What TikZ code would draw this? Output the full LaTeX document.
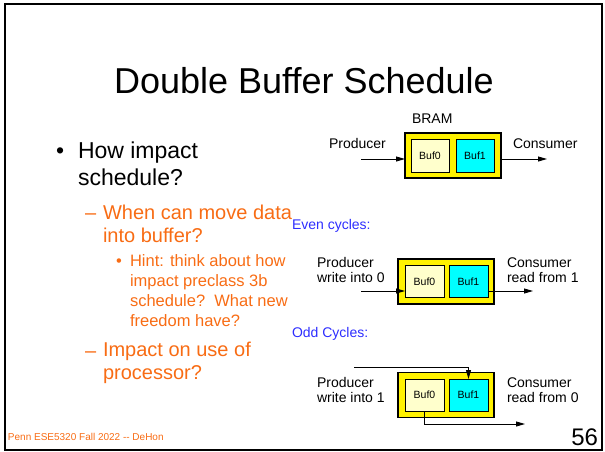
\documentclass[tikz,border=0pt]{standalone}
\usepackage{fontspec}
\setmainfont{Liberation Sans}
\usetikzlibrary{arrows.meta,positioning}
\definecolor{slideorange}{RGB}{248,108,20}
\definecolor{cycleblue}{RGB}{45,45,255}
\definecolor{palebuf}{RGB}{255,255,204}
\definecolor{bufcyan}{RGB}{0,255,255}
\newcommand{\titlesz}{\fontsize{36}{40}\selectfont}
\newcommand{\itemsz}{\fontsize{23}{27}\selectfont}
\newcommand{\subsz}{\fontsize{20}{23}\selectfont}
\newcommand{\hintsz}{\fontsize{16.5}{20}\selectfont}
\newcommand{\lblsz}{\fontsize{14}{15}\selectfont}
\tikzstyle{every picture}+=[x=1pt,y=-1pt]
\tikzstyle{every picture}+=[>={Triangle[length=9pt,width=5pt]}]
\tikzstyle{every picture}+=[line width=0.8pt]
\tikzstyle{every node}+=[inner sep=0pt,outer sep=0pt]
\tikzstyle{txt}+=[anchor=base west,align=left]
\tikzstyle{bram}+=[draw, fill=yellow, line width=1.3pt]
\tikzstyle{bram}+=[minimum width=96pt, minimum height=45pt]
\tikzstyle{buf}+=[draw, line width=0.8pt, minimum width=39pt, minimum height=32pt]
\tikzstyle{buf}+=[font=\fontsize{10.5}{12}\selectfont]
\tikzstyle{lbl}+=[txt, font=\lblsz]

\begin{document}
\begin{tikzpicture}
\useasboundingbox (0,0) rectangle (605,452);
\draw[line width=1.8pt] (5,4) rectangle (602,450);

% title and bullets (multi-line texts sit on their last baseline)
\node (title) at (304,93) [anchor=base, font=\titlesz] {Double Buffer Schedule};
\node[txt, font=\itemsz] (dot1) at (56,158) {•};
\node[txt, font=\itemsz] (it1) at (78,185) {How impact\\schedule?};
\node[txt, font=\subsz, text=slideorange] (dash1) at (85,219) {–};
\node[txt, font=\subsz, text=slideorange] (it2) at (103,242) {When can move data\\into buffer?};
\node[txt, font=\hintsz, text=slideorange] (dot2) at (116,266) {•};
\node[txt, font=\hintsz, text=slideorange] (hint) at (130,326)
  {Hint: think about how\\impact preclass 3b\\schedule?\ \ What new\\freedom have?};
\node[txt, font=\subsz, text=slideorange] (dash2) at (85,357) {–};
\node[txt, font=\subsz, text=slideorange] (it3) at (103,379) {Impact on use of\\processor?};
\node[txt, font=\fontsize{10}{12}\selectfont, text=slideorange] (foot) at (8,440)
  {Penn ESE5320 Fall 2022 -{}- DeHon};
\node[anchor=base east, font=\fontsize{24}{28}\selectfont] (page) at (598,445) {56};

% plain double buffer
\node[lbl] (bramlbl) at (412,123) {BRAM};
\node[lbl] (prod1) at (329,148) {Producer};
\node[lbl] (cons1) at (513,148) {Consumer};
\node[bram] (bram1) at (453,155.5) {};
\node[buf, fill=palebuf, minimum width=38pt, minimum height=33pt] (b10) at (430,155.5) {Buf0};
\node[buf, fill=bufcyan, minimum width=38pt, minimum height=33pt] (b11) [right=7pt of b10] {Buf1};
\coordinate (in1) at (361,159);
\coordinate (out1) at (547,159);

% even cycles
\node[lbl, text=cycleblue] (even) at (292,229) {Even cycles:};
\node[lbl] (prod2) at (317,282) {Producer\\write into 0};
\node[lbl] (cons2) at (507,282) {Consumer\\read from 1};
\node[bram] (bram2) at (446,281.5) {};
\node[buf, fill=palebuf] (b20) at (424.5,281.5) {Buf0};
\node[buf, fill=bufcyan] (b21) [right=5pt of b20] {Buf1};
\coordinate (in2) at (361,291);
\coordinate (out2) at (533,291);

% odd cycles
\node[lbl, text=cycleblue] (odd) at (292,337) {Odd Cycles:};
\node[lbl] (prod3) at (317,402) {Producer\\write into 1};
\node[lbl] (cons3) at (507,402) {Consumer\\read from 0};
\node[bram] (bram3) at (446,395) {};
\node[buf, fill=palebuf] (b30) at (424.5,395) {Buf0};
\node[buf, fill=bufcyan] (b31) [right=5pt of b30] {Buf1};
\coordinate (in3) at (354,367);
\coordinate (out3) at (525,424);

\draw[->] (in1) -- (in1 -| bram1.west);
\draw[->] (out1 -| bram1.east) -- (out1);
\draw[->] (in2) -- (in2 -| b20.west);
\draw[->] (out2 -| b21.east) -- (out2);
\draw[->] (in3) -| (b31.north);
\draw[->] (b30.south) |- (out3);
\end{tikzpicture}
\end{document}
